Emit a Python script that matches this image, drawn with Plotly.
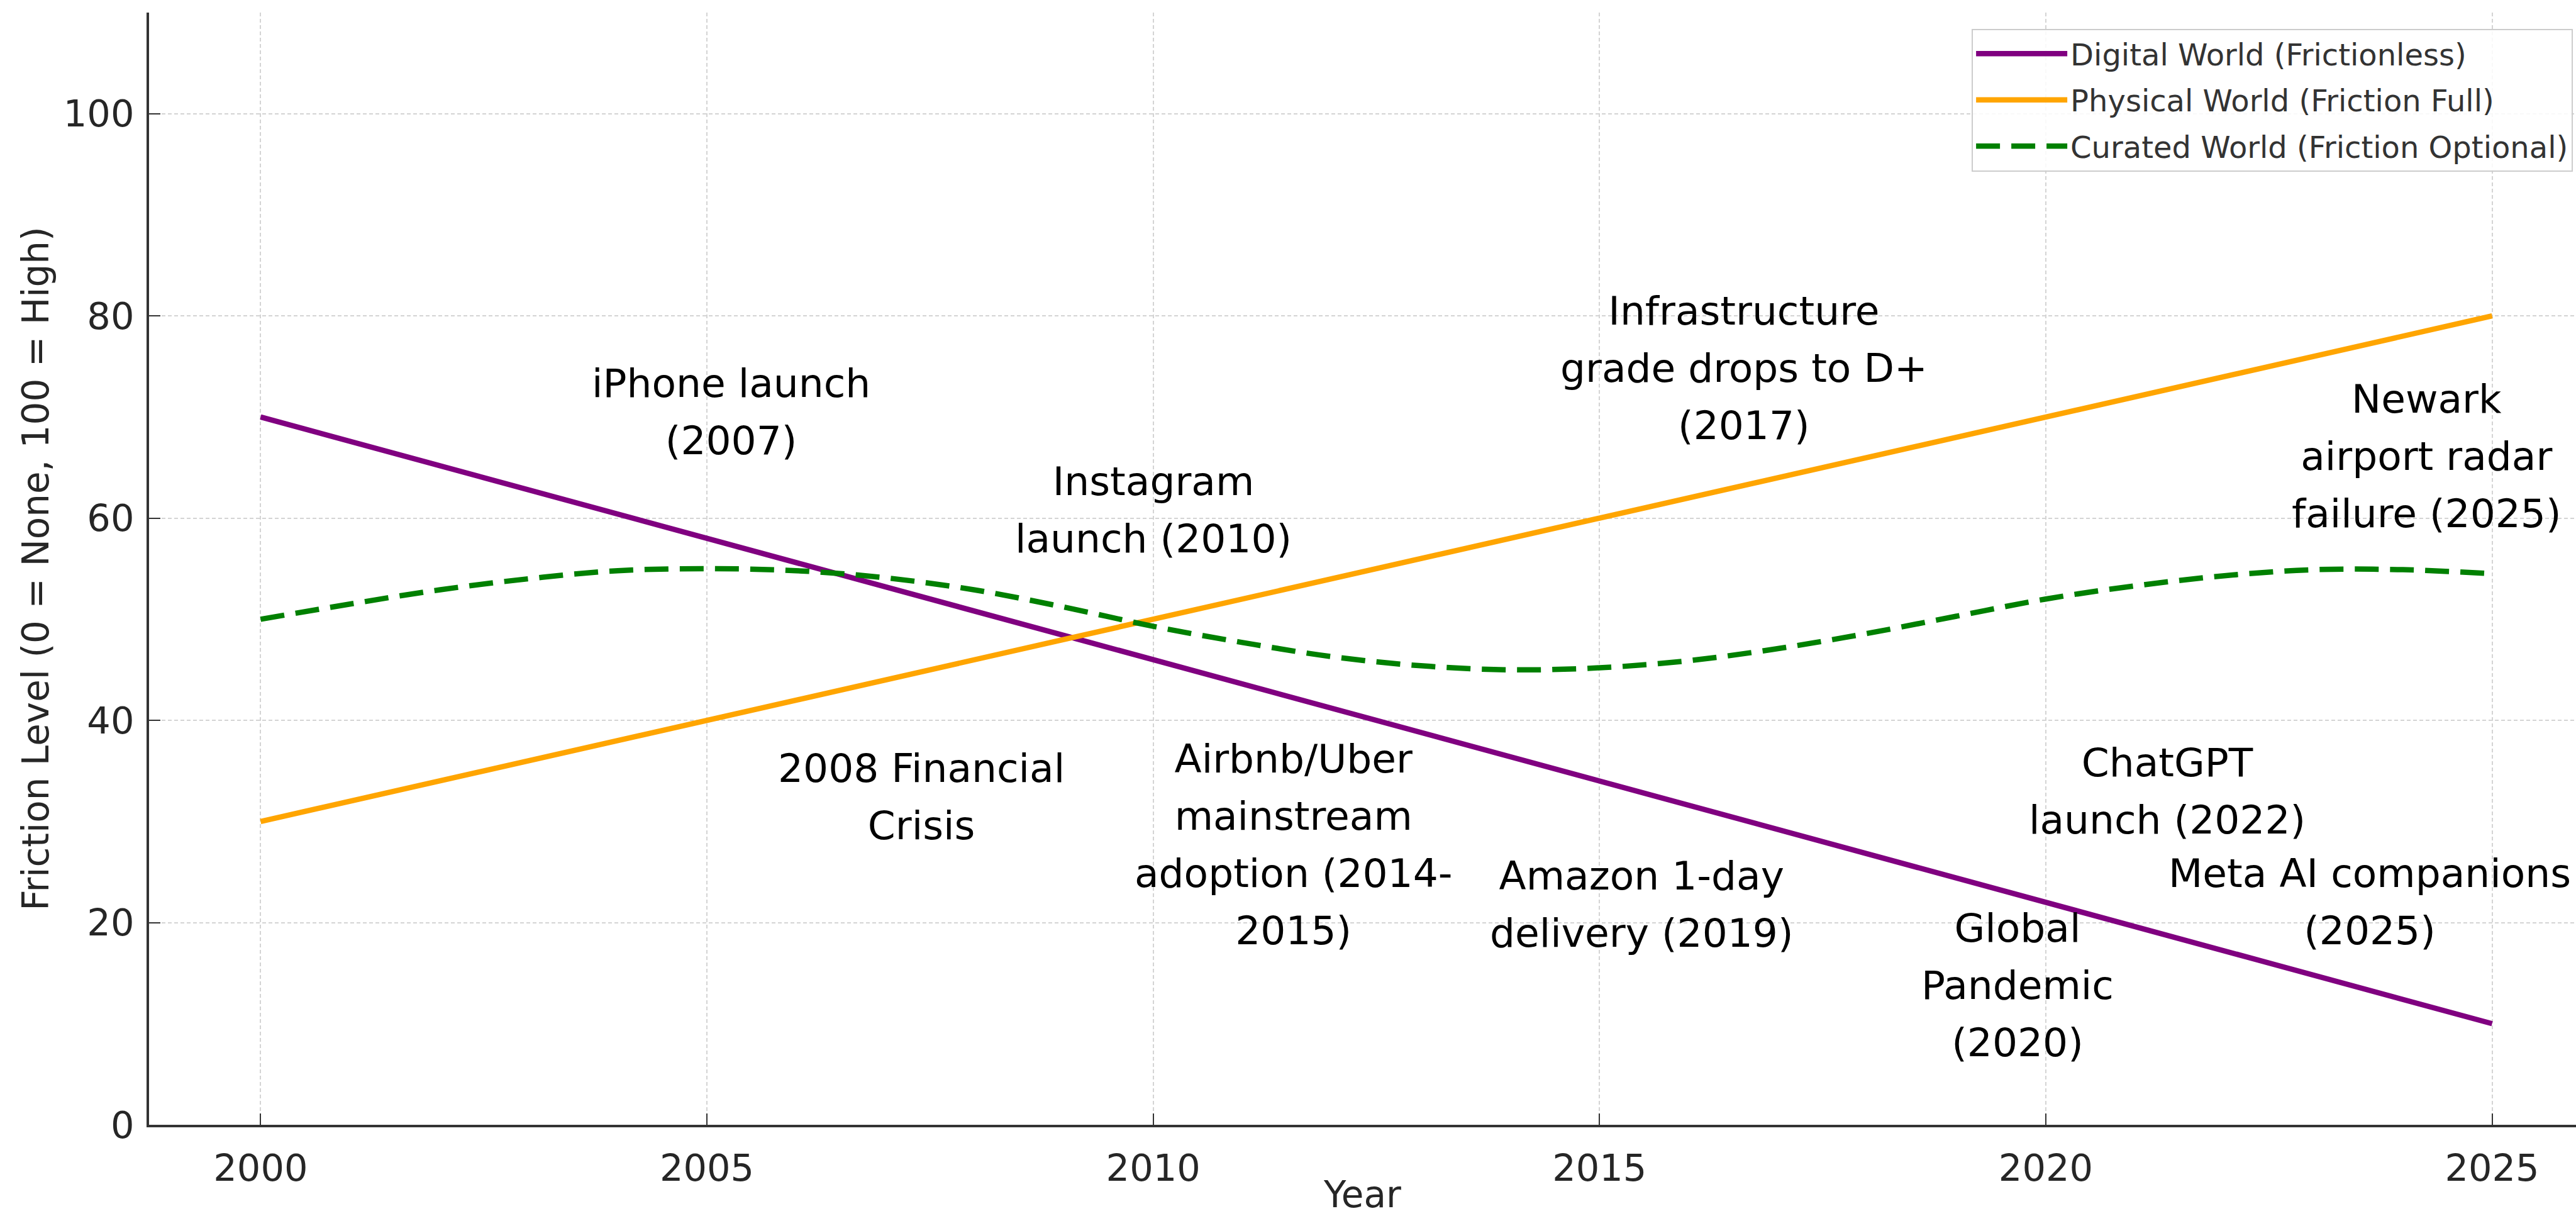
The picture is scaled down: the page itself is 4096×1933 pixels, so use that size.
import plotly.graph_objects as go

# ---- data ----
digital_years = [2000, 2025]
digital_vals = [70, 10]

physical_years = [2000, 2025]
physical_vals = [30, 80]

curated_years = list(range(2000, 2026))
curated_vals = [50.0, 51.5, 52.9, 54.0, 54.8, 55.0, 54.8, 54.1, 52.9, 51.2,
                49.3, 47.7, 46.3, 45.4, 45.0, 45.2, 45.9, 47.1, 48.6, 50.3,
                52.0, 53.3, 54.3, 54.9, 54.9, 54.5]

event_texts = [
    "iPhone launch\n(2007)",
    "Instagram\nlaunch (2010)",
    "Infrastructure\ngrade drops to D+\n(2017)",
    "Newark\nairport radar\nfailure (2025)",
    "2008 Financial\nCrisis",
    "Airbnb/Uber\nmainstream\nadoption (2014-\n2015)",
    "Amazon 1-day\ndelivery (2019)",
    "Global\nPandemic\n(2020)",
    "ChatGPT\nlaunch (2022)",
    "Meta AI companions\n(2025)",
]
event_x = [2005.27, 2010.0, 2016.62, 2024.27, 2007.40, 2011.57, 2015.47, 2019.68, 2021.36, 2023.63]
event_y = [70.5, 60.8, 74.8, 66.1, 32.4, 27.7, 21.8, 13.8, 33.0, 22.0]

x_ticks = [2000, 2005, 2010, 2015, 2020, 2025]
y_ticks = [0, 20, 40, 60, 80, 100]

FONT = "DejaVu Sans"
LW = 8.5

fig = go.Figure()
fig.add_trace(go.Scatter(x=digital_years, y=digital_vals, mode="lines",
                         name="Digital World (Frictionless)", legendgroup="a",
                         line=dict(color="#800080", width=LW)))
fig.add_trace(go.Scatter(x=physical_years, y=physical_vals, mode="lines",
                         name="Physical World (Friction Full)", legendgroup="b",
                         line=dict(color="#FFA500", width=LW)))
fig.add_trace(go.Scatter(x=curated_years, y=curated_vals, mode="lines",
                         name="Curated World (Friction Optional)", legendgroup="c",
                         line=dict(color="#008000", width=LW, dash="38px,18px",
                                   shape="spline", smoothing=1.0)))

ANN_OUTER = 70
ANN_INNER = 63
for t, x, y in zip(event_texts, event_x, event_y):
    lines = t.split("\n")
    html = "<br>".join(f'<span style="font-size:{ANN_INNER}px">{ln}</span>' for ln in lines)
    fig.add_annotation(x=x, y=y, xref="x", yref="y", text=html, showarrow=False,
                       xanchor="center", yanchor="middle", align="center",
                       font=dict(family=FONT, size=ANN_OUTER, color="#000000"))

grid = dict(showgrid=True, gridcolor="#d4d4d4", gridwidth=1.6, griddash="6px,4px")

fig.update_xaxes(range=[1998.75, 2025.94], tickvals=x_ticks, ticktext=[str(v) for v in x_ticks],
                 showline=True, linecolor="#333333", linewidth=3.5,
                 ticks="inside", ticklen=18, tickwidth=2, tickcolor="#333333",
                 tickfont=dict(family=FONT, size=59, color="#262626"),
                 ticklabelstandoff=14,
                 title=dict(text="Year", font=dict(family=FONT, size=58, color="#262626"), standoff=16),
                 zeroline=False, **grid)
fig.update_yaxes(range=[0, 110], tickvals=y_ticks, ticktext=[str(v) for v in y_ticks],
                 showline=True, linecolor="#333333", linewidth=3.5,
                 ticks="inside", ticklen=18, tickwidth=2, tickcolor="#333333",
                 tickfont=dict(family=FONT, size=59, color="#262626"),
                 ticklabelstandoff=8,
                 title=dict(text="Friction Level (0 = None, 100 = High)",
                            font=dict(family=FONT, size=58, color="#262626"), standoff=6),
                 zeroline=False, **grid)

fig.update_layout(
    width=4096, height=1933,
    margin=dict(l=237, r=0, t=20, b=145, autoexpand=False),
    paper_bgcolor="white", plot_bgcolor="white",
    showlegend=True,
    legend=dict(x=0.751, y=0.9855, xanchor="left", yanchor="top",
                bgcolor="rgba(255,255,255,0.85)", bordercolor="#cccccc", borderwidth=2,
                font=dict(family=FONT, size=48, color="#333333"),
                traceorder="grouped", tracegroupgap=8, itemwidth=145),
)

fig.write_html("out.html")
